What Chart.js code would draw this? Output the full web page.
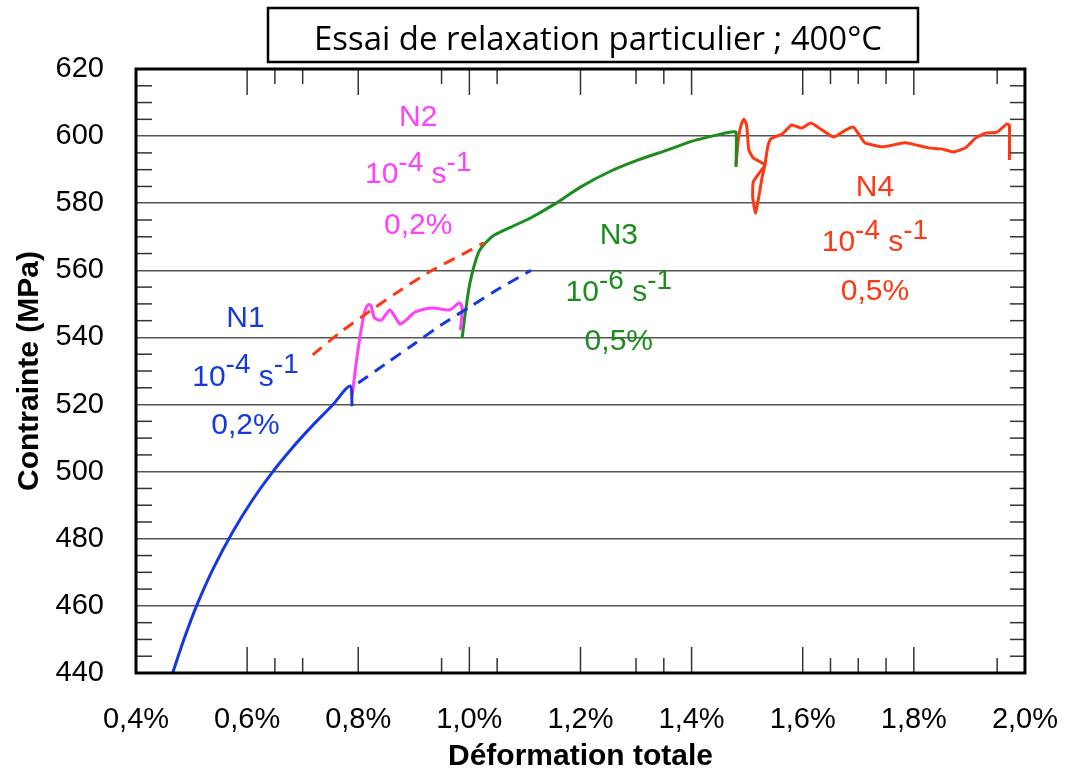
<!DOCTYPE html>
<html>
<head>
<meta charset="utf-8">
<script src="https://cdn.jsdelivr.net/npm/chart.js@4.4.1/dist/chart.umd.min.js"></script>
<style>
  html, body { margin: 0; padding: 0; background: #fff; }
</style>
</head>
<body>
<canvas id="chart" width="1088" height="771"></canvas>
<script>
// N1 : 10^-4 s^-1 up to 0.2 %
const n1X = [0.466, 0.486, 0.509, 0.539, 0.574, 0.609, 0.644, 0.683, 0.718, 0.753, 0.785, 0.789];
const n1Y = [440.0, 449.9, 460.0, 471.1, 482.0, 491.4, 499.5, 507.4, 513.8, 519.7, 525.5, 519.5];
// N1 extrapolated (dashed)
const n1DashX = [0.800, 0.850, 0.900, 0.950, 1.000, 1.050, 1.111];
const n1DashY = [526.4, 532.2, 538.0, 543.8, 549.0, 554.2, 560.0];
// N2 extrapolated (dashed red)
const n2DashX = [0.718, 0.770, 0.824, 0.880, 0.934, 0.996, 1.026];
const n2DashY = [534.8, 541.8, 548.2, 554.5, 560.1, 565.5, 568.2];
// N2
const n2X = [0.789, 0.796, 0.804, 0.812, 0.818, 0.823, 0.829, 0.842, 0.857, 0.875, 0.886, 0.903, 0.934, 0.964, 0.982, 0.987, 0.984];
const n2Y = [522.5, 532.0, 541.0, 548.0, 549.8, 549.5, 545.8, 545.2, 548.2, 544.0, 545.2, 547.6, 548.8, 548.2, 550.3, 548.9, 542.2];
// N3 : 10^-6 s^-1
const n3X = [0.987, 0.991, 0.996, 1.001, 1.008, 1.017, 1.026, 1.045, 1.075, 1.110, 1.151, 1.200, 1.251, 1.304, 1.357, 1.401, 1.445, 1.471, 1.480, 1.480];
const n3Y = [539.8, 545.2, 551.2, 556.2, 561.0, 565.5, 567.6, 570.5, 572.9, 575.6, 579.5, 584.8, 589.3, 592.9, 595.9, 598.5, 600.3, 601.2, 601.2, 590.8];
// N4
const n4X = [1.480, 1.484, 1.489, 1.494, 1.499, 1.503, 1.511, 1.532, 1.523, 1.511, 1.510, 1.515, 1.520, 1.527, 1.532, 1.537, 1.542, 1.549, 1.563, 1.580, 1.598, 1.615, 1.635, 1.656, 1.677, 1.691, 1.702, 1.712, 1.744, 1.784, 1.826, 1.849, 1.872, 1.893, 1.911, 1.929, 1.950, 1.967, 1.972, 1.972];
const n4Y = [591.4, 598.8, 603.3, 605.1, 603.3, 595.9, 593.5, 591.4, 589.3, 586.3, 581.8, 577.1, 581.0, 587.8, 591.4, 596.8, 599.1, 599.7, 600.6, 603.3, 602.4, 603.9, 601.8, 599.7, 601.8, 602.7, 600.3, 598.0, 596.8, 598.0, 596.5, 596.2, 595.3, 596.5, 599.4, 600.9, 601.2, 603.6, 603.3, 592.9];

// annotations
const annNames = ['N1', 'N2', 'N3', 'N4'];
const annExp = ['-4', '-4', '-6', '-4'];
const annStrain = ['0,2%', '0,2%', '0,5%', '0,5%'];
const annX = [0.597, 0.908, 1.269, 1.730];
const annNameY = [545.5, 605.4, 570.2, 584.5];
const annRateY = [528.0, 588.4, 553.3, 568.2];
const annStrainY = [513.6, 573.2, 538.7, 553.6];

// tick marks
const xMajorTicks = [0.6, 0.8, 1.0, 1.2, 1.4, 1.6, 1.8];
const xMinorTicks = [0.65, 0.70, 0.95, 1.05, 1.30, 1.35, 1.65, 1.70, 1.75, 1.95];

const BLUE = '#1538e0';
const PINK = '#ff40ff';
const GREEN = '#1c8c1c';
const RED = '#ff3814';

const FONT = '"Liberation Sans", Arial, Helvetica, sans-serif';
Chart.defaults.font.family = FONT;
Chart.defaults.color = '#000';

function pts(xs, ys) {
    return xs.map((x, i) => ({ x: x, y: ys[i] }));
}

// draws "10^exp s^-1"
function rateText(ctx, cx, cy, exp) {
    const big = '30px ' + FONT, small = '28px ' + FONT;
    ctx.font = big;
    const w10 = ctx.measureText('10').width;
    const ws = ctx.measureText(' s').width;
    ctx.font = small;
    const we = ctx.measureText(exp).width;
    const w1 = ctx.measureText('-1').width;
    let xx = cx - (w10 + we + ws + w1) / 2;
    ctx.textAlign = 'left';
    ctx.font = big; ctx.fillText('10', xx, cy); xx += w10;
    ctx.font = small; ctx.fillText(exp, xx, cy - 12); xx += we;
    ctx.font = big; ctx.fillText(' s', xx, cy); xx += ws;
    ctx.font = small; ctx.fillText('-1', xx, cy - 12);
}

const decor = {
    id: 'decor',
    afterDatasetsDraw(chart) {
        const { ctx, chartArea: a, scales: { x, y } } = chart;
        ctx.save();
        ctx.strokeStyle = '#333';
        ctx.lineWidth = 1.5;
        const seg = (x1, y1, x2, y2) => { ctx.beginPath(); ctx.moveTo(x1, y1); ctx.lineTo(x2, y2); ctx.stroke(); };
        xMajorTicks.forEach(v => {
            const px = x.getPixelForValue(v);
            seg(px, a.bottom, px, a.bottom - 26);
            seg(px, a.top, px, a.top + 26);
        });
        xMinorTicks.forEach(v => {
            const px = x.getPixelForValue(v);
            seg(px, a.bottom, px, a.bottom - 15);
            seg(px, a.top, px, a.top + 15);
        });
        for (let v = 445; v < 620; v += 5) {
            if (v % 20 === 0) continue;
            const py = y.getPixelForValue(v);
            seg(a.left, py, a.left + 16, py);
            seg(a.right, py, a.right - 15, py);
        }
        // frame
        ctx.strokeStyle = '#000';
        ctx.lineWidth = 3;
        ctx.strokeRect(a.left, a.top, a.right - a.left, a.bottom - a.top);

        // annotations
        const colors = [BLUE, PINK, GREEN, RED];
        ctx.textBaseline = 'middle';
        annNames.forEach((name, i) => {
            const cx = x.getPixelForValue(annX[i]);
            ctx.fillStyle = colors[i];
            ctx.textAlign = 'center';
            ctx.font = '30px ' + FONT;
            ctx.fillText(name, cx, y.getPixelForValue(annNameY[i]));
            ctx.fillText(annStrain[i], cx, y.getPixelForValue(annStrainY[i]));
            rateText(ctx, cx, y.getPixelForValue(annRateY[i]), annExp[i]);
        });
        ctx.restore();
    },
    afterDraw(chart) {
        const ctx = chart.ctx;
        ctx.save();
        ctx.fillStyle = '#fff';
        ctx.fillRect(268, 8, 650, 54);
        ctx.strokeStyle = '#000';
        ctx.lineWidth = 2.5;
        ctx.strokeRect(268, 8, 650, 54);
        const txt = 'Essai de relaxation particulier ; 400°C';
        ctx.font = '32px "Open Sans", Lato, sans-serif';
        const w = ctx.measureText(txt).width;
        ctx.translate(598, 50);
        ctx.scale(568 / w, 1);
        ctx.fillStyle = '#000';
        ctx.textAlign = 'center';
        ctx.textBaseline = 'alphabetic';
        ctx.fillText(txt, 0, 0);
        ctx.restore();
    }
};

new Chart(document.getElementById('chart'), {
    type: 'line',
    data: {
        datasets: [
            { label: 'N1', data: pts(n1X, n1Y), borderColor: BLUE, tension: 0.3 },
            { label: 'N1 extrapolation', data: pts(n1DashX, n1DashY), borderColor: BLUE, borderDash: [12, 8], tension: 0.3 },
            { label: 'N2 extrapolation', data: pts(n2DashX, n2DashY), borderColor: RED, borderDash: [12, 8], tension: 0.3 },
            { label: 'N2', data: pts(n2X, n2Y), borderColor: PINK, tension: 0.25 },
            { label: 'N3', data: pts(n3X, n3Y), borderColor: GREEN, tension: 0.2 },
            { label: 'N4', data: pts(n4X, n4Y), borderColor: RED, tension: 0.15 }
        ]
    },
    options: {
        responsive: false,
        animation: false,
        layout: { padding: { top: 69, right: 42, left: 0, bottom: 0 } },
        plugins: { legend: { display: false }, tooltip: { enabled: false } },
        elements: { point: { radius: 0 }, line: { fill: false, borderWidth: 3 } },
        scales: {
            x: {
                type: 'linear',
                min: 0.4,
                max: 2.0,
                ticks: {
                    stepSize: 0.2,
                    padding: 30,
                    font: { size: 29 },
                    color: '#000',
                    callback: v => v.toFixed(1).replace('.', ',') + '%'
                },
                grid: { display: false, drawTicks: false },
                border: { display: false },
                title: { display: true, text: 'Déformation totale', color: '#000', font: { size: 30, weight: 'bold' }, padding: { top: 0, bottom: -4 } },
                afterFit: s => { s.height = 98; }
            },
            y: {
                min: 440,
                max: 620,
                ticks: { stepSize: 20, padding: 32, font: { size: 29 }, color: '#000' },
                grid: { color: '#555', lineWidth: 1.5, drawTicks: false },
                border: { display: false },
                title: { display: true, text: 'Contrainte (MPa)', color: '#000', font: { size: 30, weight: 'bold' }, padding: { top: 12, bottom: 0 } },
                afterFit: s => { s.width = 136; }
            }
        }
    },
    plugins: [decor]
});
</script>
</body>
</html>
